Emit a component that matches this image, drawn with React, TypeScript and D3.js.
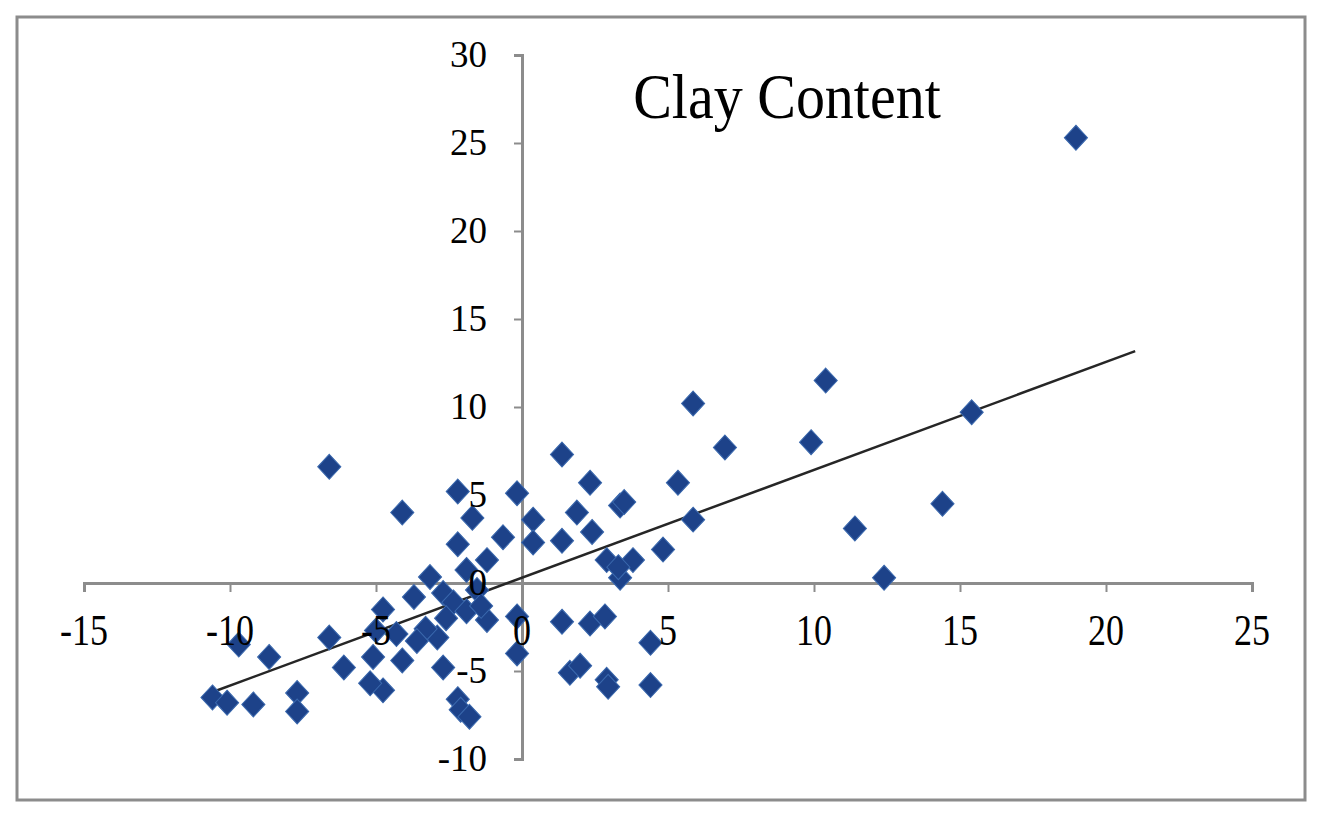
import React, { useRef, useEffect } from 'react';
import * as d3 from 'd3';

// residual pairs
const xValues = [
  18.97, 10.4, 15.4, 9.9, 6.95, 5.86, 14.4, 11.4, 12.4, 5.34, 5.86, 4.83,
  1.37, 2.33, 3.36, 3.5, 1.88, 2.4, 1.37, 2.9, 3.8, 3.36, 3.3, 0.38, 0.38,
  -0.65, -0.17, 1.37, 2.33, 2.84, 4.4, 1.64, 1.99, 2.9, 2.95, 4.4, -0.17, -0.17,
  -6.6, -4.1, -2.2, -1.7, -2.2, -1.2, -1.9, -3.15, -2.7, -3.7, -1.54, -2.35,
  -4.76, -1.2, -2.9, -3.3, -2.6, -1.9, -3.6, -5.1, -4.1, -2.7, -4.76, -5.2,
  -2.2, -2.1, -1.8, -6.6, -6.1, -8.66, -9.7, -10.6, -10.1, -9.2, -7.7, -7.7,
  -4.3, -5.0, -1.4
];
const yValues = [
  25.3, 11.5, 9.7, 8.0, 7.7, 10.2, 4.5, 3.1, 0.3, 5.7, 3.6, 1.9,
  7.3, 5.7, 4.4, 4.6, 4.0, 2.9, 2.4, 1.3, 1.3, 0.3, 0.9, 3.6, 2.3,
  2.6, 5.1, -2.2, -2.3, -1.9, -3.4, -5.1, -4.7, -5.5, -5.9, -5.8, -1.9, -4.0,
  6.6, 4.0, 5.2, 3.7, 2.2, 1.3, 0.74, 0.34, -0.57, -0.8, -0.4, -1.1,
  -1.5, -2.1, -3.1, -2.6, -2.0, -1.6, -3.3, -4.2, -4.4, -4.8, -6.1, -5.7,
  -6.6, -7.2, -7.6, -3.1, -4.8, -4.2, -3.5, -6.5, -6.8, -6.9, -6.25, -7.3,
  -2.9, -2.7, -1.3
];

const xTicks = [-15, -10, -5, 0, 5, 10, 15, 20, 25];
const yTicks = [-10, -5, 0, 5, 10, 15, 20, 25, 30];

// linear trend line
const trendSlope = 0.613;
const trendIntercept = 0.3;
const trendRange = [-10.5, 21];

const App = () => {
  const ref = useRef(null);

  useEffect(() => {
    const svg = d3.select(ref.current);
    svg.selectAll('*').remove();

    const xScale = d3.scaleLinear().domain([-15, 25]).range([84, 1252]);
    const yScale = d3.scaleLinear().domain([-10, 30]).range([759, 55]);

    const g = svg.append('g');

    // outer frame
    g.append('rect')
      .attr('x', 17).attr('y', 17)
      .attr('width', 1288).attr('height', 783)
      .attr('fill', 'white')
      .attr('stroke', '#8c8c8c')
      .attr('stroke-width', 3);

    // x axis (crosses at y = 0)
    const xAxis = g.append('g')
      .attr('transform', `translate(0,${yScale(0)})`)
      .call(d3.axisBottom(xScale).tickValues(xTicks).tickSize(9).tickFormat(() => ''));
    xAxis.select('.domain').attr('stroke', '#8c8c8c').attr('stroke-width', 3);
    xAxis.selectAll('.tick line').attr('stroke', '#8c8c8c').attr('stroke-width', 2);

    // y axis (crosses at x = 0)
    const yAxis = g.append('g')
      .attr('transform', `translate(${xScale(0)},0)`)
      .call(d3.axisLeft(yScale).tickValues(yTicks).tickSize(8).tickFormat(() => ''));
    yAxis.select('.domain').attr('stroke', '#8c8c8c').attr('stroke-width', 3);
    yAxis.selectAll('.tick line').attr('stroke', '#8c8c8c').attr('stroke-width', 2);

    // trend line
    g.append('line')
      .attr('x1', xScale(trendRange[0]))
      .attr('y1', yScale(trendSlope * trendRange[0] + trendIntercept))
      .attr('x2', xScale(trendRange[1]))
      .attr('y2', yScale(trendSlope * trendRange[1] + trendIntercept))
      .attr('stroke', '#262626')
      .attr('stroke-width', 2.5);

    // diamonds
    const diamond = d3.symbol().type(d3.symbolDiamond2).size(340);
    g.selectAll('path.pt')
      .data(d3.range(xValues.length))
      .enter().append('path')
      .attr('class', 'pt')
      .attr('d', diamond)
      .attr('transform', i => `translate(${xScale(xValues[i])},${yScale(yValues[i])}) scale(1,1.08)`)
      .attr('fill', '#1d4289')
      .attr('stroke', '#3a68ad')
      .attr('stroke-width', 1);

    // tick labels (x labels look stretched upward in the original)
    g.selectAll('text.xl')
      .data(xTicks)
      .enter().append('text')
      .attr('class', 'xl')
      .attr('transform', d => `translate(${xScale(d)},${yScale(0) + 62}) scale(1,1.25)`)
      .attr('text-anchor', 'middle')
      .attr('font-family', 'Liberation Serif')
      .attr('font-size', 36)
      .attr('fill', '#000')
      .text(d => d);

    g.selectAll('text.yl')
      .data(yTicks)
      .enter().append('text')
      .attr('class', 'yl')
      .attr('x', xScale(0) - 35)
      .attr('y', d => yScale(d) + 12)
      .attr('text-anchor', 'end')
      .attr('font-family', 'Liberation Serif')
      .attr('font-size', 37)
      .attr('fill', '#000')
      .text(d => d);

    // title
    g.append('text')
      .attr('transform', 'translate(787,118) scale(1,1.08)')
      .attr('text-anchor', 'middle')
      .attr('font-family', 'Liberation Serif')
      .attr('font-size', 58)
      .attr('fill', '#000')
      .text('Clay Content');
  }, []);

  return (
    <svg ref={ref} width={1323} height={815}
      style={{ position: 'absolute', left: 0, top: 0, background: 'white' }} />
  );
};

export default App;
